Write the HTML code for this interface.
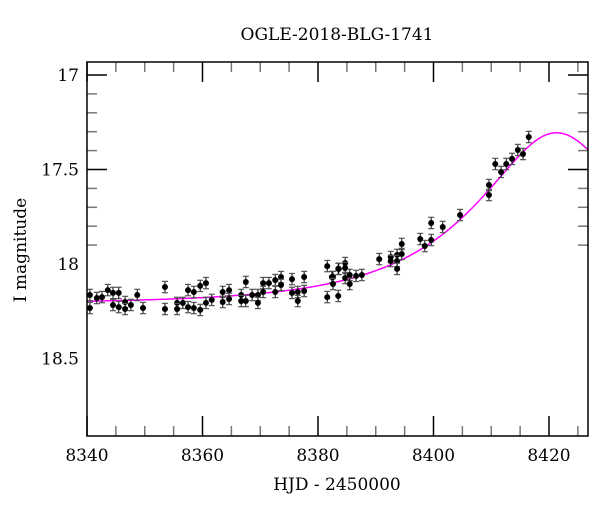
<!DOCTYPE html>
<html><head><meta charset="utf-8"><style>
body{margin:0;background:#fff}
svg text{font-family:"DejaVu Serif","Liberation Serif",serif;fill:#000}
</style></head><body>
<svg width="600" height="512" viewBox="0 0 600 512">
<g id="plot"></g>
</svg>
<script>
const hjd=[0.5,0.5,1.7,2.6,3.6,4.5,4.5,5.5,5.5,6.6,6.6,7.6,8.7,9.7,13.5,13.5,15.6,15.6,16.6,17.5,17.5,18.5,18.5,19.6,19.6,20.6,20.6,21.6,23.5,23.5,24.6,24.6,26.7,26.7,27.5,27.5,28.6,29.6,29.6,30.5,30.5,31.5,32.6,32.6,33.6,33.6,35.5,35.5,36.5,36.5,37.6,37.6,41.6,41.6,42.4,43.5,43.5,42.6,42.6,43.6,44.7,44.7,44.7,45.5,45.5,46.6,47.6,50.6,52.6,52.6,53.7,53.7,53.7,54.5,54.5,57.7,58.5,59.6,59.6,61.6,64.6,69.6,69.6,70.7,71.7,72.6,73.6,74.6,75.5,76.5].map(d=>8340+d);
const mag=[18.233,18.164,18.18,18.175,18.138,18.153,18.217,18.153,18.228,18.201,18.238,18.217,18.164,18.233,18.122,18.238,18.206,18.238,18.206,18.138,18.228,18.148,18.233,18.116,18.243,18.101,18.206,18.19,18.148,18.201,18.138,18.185,18.164,18.196,18.095,18.196,18.164,18.164,18.206,18.101,18.148,18.101,18.085,18.148,18.069,18.111,18.08,18.153,18.148,18.196,18.069,18.143,18.011,18.175,18.069,18.026,18.169,18.069,18.106,18.026,17.995,18.021,18.074,18.058,18.106,18.063,18.058,17.974,17.963,17.984,17.952,17.984,18.026,17.894,17.947,17.868,17.905,17.783,17.873,17.804,17.741,17.582,17.635,17.471,17.513,17.471,17.444,17.397,17.418,17.328];
const errs=mag.map(()=>0.03);
const xTicks=[8340,8360,8380,8400,8420];
const yTicks=[17,17.5,18,18.5];
const model={t0:8421.3,tE:24.8,u0:0.47,m0:18.21};

const L=87,R=588,T=62,B=436;
const X=v=>L+(v-8340)*(549-87)/80;
const Y=v=>75+(v-17)*189;
const g=document.getElementById('plot');
const NS='http://www.w3.org/2000/svg';
function mk(tag,attrs,parent){const e=document.createElementNS(NS,tag);for(const k in attrs)e.setAttribute(k,attrs[k]);(parent||g).appendChild(e);return e;}

for(let v=8340;v<=8426;v+=5){const major=v%20===0;const len=major?20:10;const c=major?'#000':'#777';
 let t=mk('line',{x1:X(v),x2:X(v),y1:B,y2:B-len,stroke:c,'stroke-width':1.5});
 
 
 t=mk('line',{x1:X(v),x2:X(v),y1:T,y2:T+len,stroke:c,'stroke-width':1.5});
 
 }
for(let i=0;i<=19;i++){const v=16.95+i*0.05;const r=Math.round(v*10)/10;if(Math.abs(v-r)>0.001)continue;if(Y(r)<T||Y(r)>B)continue;
 const major=Math.abs(r*2-Math.round(r*2))<0.001;const len=major?20:10;const c=major?'#000':'#777';
 let t=mk('line',{x1:L,x2:L+len,y1:Y(r),y2:Y(r),stroke:c,'stroke-width':1.5});
 
 
 t=mk('line',{x1:R,x2:R-len,y1:Y(r),y2:Y(r),stroke:c,'stroke-width':1.5});
 
 }
xTicks.forEach(v=>{const t=mk('text',{x:X(v),y:461,'text-anchor':'middle','font-size':17});t.textContent=v;
 
 });
yTicks.forEach(v=>{const t=mk('text',{x:79,y:Y(v)+6,'text-anchor':'end','font-size':17});t.textContent=v;
 
 });

let d='';
for(let t=8340;t<=8426.8;t+=0.25){const u=Math.sqrt(model.u0**2+((t-model.t0)/model.tE)**2);const A=(u*u+2)/(u*Math.sqrt(u*u+4));const m=model.m0-2.5*Math.log10(A);d+=(d?'L':'M')+X(t).toFixed(1)+','+Y(m).toFixed(1);}
const cv=mk('path',{d:d,fill:'none',stroke:'#f0f','stroke-width':1.5});



hjd.forEach((h,i)=>{const x=X(h),y=Y(mag[i]),e=errs[i]*189;
 const gp=mk('g',{});
 
 
 mk('line',{x1:x,x2:x,y1:y-e,y2:y+e,stroke:'#000','stroke-width':1},gp);
 mk('line',{x1:x-3,x2:x+3,y1:y-e,y2:y-e,stroke:'#555','stroke-width':1.2},gp);
 mk('line',{x1:x-3,x2:x+3,y1:y+e,y2:y+e,stroke:'#555','stroke-width':1.2},gp);
 mk('circle',{cx:x,cy:y,r:3,fill:'#000'},gp);});

const fr=mk('rect',{x:L,y:T,width:R-L,height:B-T,fill:'none',stroke:'#000','stroke-width':1.5});


</script>
<svg width="600" height="512" style="position:absolute;left:0;top:0">
<text x="337" y="40" text-anchor="middle" font-size="17">OGLE-2018-BLG-1741</text>
<text x="337" y="490" text-anchor="middle" font-size="17">HJD - 2450000</text>
<text x="0" y="0" transform="translate(26,250) rotate(-90)" text-anchor="middle" font-size="17">I magnitude</text>
</svg>
</body></html>
